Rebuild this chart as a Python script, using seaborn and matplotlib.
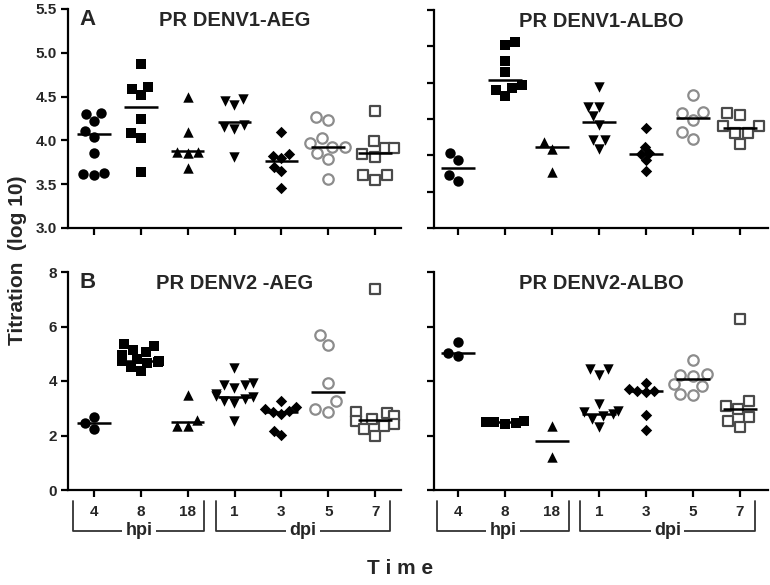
import matplotlib
matplotlib.use('Agg')
import matplotlib.pyplot as plt
import matplotlib.transforms as mtransforms
import seaborn as sns
import pandas as pd

# Time points (x categories) shared by all four panels
time_labels = ['4', '8', '18', '1', '3', '5', '7']

# PR DENV1-AEG
aeg1_values = [
    [4.31, 4.30, 4.22, 4.11, 4.04, 3.86, 3.63, 3.60, 3.62],
    [4.87, 4.61, 4.59, 4.52, 4.25, 4.09, 4.03, 3.64],
    [4.50, 4.10, 3.87, 3.87, 3.86, 3.69],
    [4.47, 4.45, 4.40, 4.18, 4.15, 4.13, 3.81],
    [4.10, 3.84, 3.82, 3.80, 3.70, 3.65, 3.46],
    [4.27, 4.23, 4.03, 3.97, 3.93, 3.93, 3.86, 3.79, 3.56],
    [4.33, 3.99, 3.91, 3.91, 3.85, 3.81, 3.61, 3.55, 3.61],
]
aeg1_means = [4.07, 4.38, 3.88, 4.21, 3.77, 3.93, 3.86]

# PR DENV1-ALBO
albo1_values = [
    [3.53, 3.43, 3.23, 3.14],
    [5.06, 5.02, 4.80, 4.64, 4.47, 4.42, 4.40, 4.31],
    [3.69, 3.59, 3.27],
    [4.44, 4.17, 4.17, 4.04, 3.92, 3.71, 3.71, 3.59],
    [3.88, 3.62, 3.53, 3.52, 3.43, 3.28],
    [4.33, 4.08, 4.09, 3.98, 3.82, 3.72],
    [4.08, 4.05, 3.90, 3.90, 3.81, 3.81, 3.65],
]
albo1_means = [3.33, 4.54, 3.61, 3.96, 3.52, 4.01, 3.88]

# PR DENV2-AEG
aeg2_values = [
    [2.69, 2.45, 2.24],
    [5.35, 5.30, 5.15, 5.05, 4.95, 4.80, 4.75, 4.72, 4.70, 4.65, 4.50, 4.35],
    [3.49, 2.58, 2.36, 2.36],
    [4.49, 3.94, 3.86, 3.86, 3.75, 3.52, 3.46, 3.40, 3.35, 3.28, 3.20, 2.54],
    [3.25, 3.05, 2.97, 2.89, 2.85, 2.79, 2.18, 2.02],
    [5.68, 5.32, 3.94, 3.25, 2.97, 2.88],
    [7.38, 2.85, 2.81, 2.70, 2.60, 2.54, 2.42, 2.36, 2.24, 2.00],
]
aeg2_means = [2.45, 4.72, 2.48, 3.42, 2.85, 3.60, 2.58]

# PR DENV2-ALBO
albo2_values = [
    [5.44, 5.04, 4.92],
    [2.55, 2.50, 2.48, 2.45, 2.42],
    [2.36, 1.20],
    [4.43, 4.43, 4.21, 3.15, 2.91, 2.85, 2.79, 2.70, 2.60, 2.30],
    [3.91, 3.70, 3.65, 3.62, 3.60, 2.76, 2.21],
    [4.76, 4.25, 4.22, 4.19, 3.88, 3.82, 3.54, 3.49],
    [6.26, 3.25, 3.09, 2.97, 2.67, 2.54, 2.32],
]
albo2_means = [5.04, 2.48, 1.79, 2.79, 3.62, 4.09, 2.97]

# marker style per time point (GraphPad-like)
markers = ['o', 's', '^', 'v', 'D', 'o', 's']
faces = ['black', 'black', 'black', 'black', 'black', 'white', 'white']
edges = ['black', 'black', 'black', 'black', 'black', '#8c8c8c', '#4a4a4a']
sizes = [7.5, 7.5, 7.5, 7.5, 5.8, 7.5, 7.5]

sns.set_style('ticks')
plt.rcParams['font.family'] = ['Liberation Sans', 'DejaVu Sans']
plt.rcParams['font.weight'] = 'bold'

fig = plt.figure(figsize=(7.7, 5.85), dpi=100)
W, H = 770.0, 585.0


def make_axes(left, right, top, bottom):
    return fig.add_axes([left / W, 1 - bottom / H, (right - left) / W, (bottom - top) / H])


def draw_panel(ax, values, means, title, letter, ylim, yticks, show_labels, fmt, xlim):
    for i, vals in enumerate(values):
        df = pd.DataFrame({'time': time_labels[i], 'titer': vals})
        lw = 1.6 if faces[i] == 'white' else 0
        sns.swarmplot(data=df, x='time', y='titer', order=time_labels, ax=ax,
                      marker=markers[i], color=faces[i], edgecolor=edges[i],
                      linewidth=lw, size=sizes[i], warn_thresh=1.0)
    # mean bars
    for i, m in enumerate(means):
        ax.hlines(m, i - 0.36, i + 0.36, color='black', lw=1.8, zorder=5)
    ax.set_xlim(*xlim)
    ax.set_ylim(*ylim)
    ax.set_yticks(yticks)
    if show_labels:
        ax.set_yticklabels([fmt.format(t) for t in yticks], fontsize=11,
                           fontweight='bold')
    else:
        ax.set_yticklabels([])
    ax.set_xlabel('')
    ax.set_ylabel('')
    for s in ['top', 'right']:
        ax.spines[s].set_visible(False)
    for s in ['left', 'bottom']:
        ax.spines[s].set_linewidth(1.6)
        ax.spines[s].set_color('black')
    ax.tick_params(axis='both', width=1.6, length=5, color='black', pad=3)
    ax.text(0.5, 0.99, title, transform=ax.transAxes, ha='center', va='top',
            fontsize=14.5, fontweight='bold')
    if letter:
        ax.text(0.035, 1.0, letter, transform=ax.transAxes, ha='left', va='top',
                fontsize=16, fontweight='bold')


def bracket_row(ax):
    ax.set_xticks(range(len(time_labels)))
    ax.set_xticklabels(time_labels, fontsize=11, fontweight='bold')
    ax.tick_params(axis='x', pad=6)
    trans = mtransforms.blended_transform_factory(ax.transData, ax.transAxes)
    y_top, y_bot = -0.05, -0.188
    for (x0, x1, lab) in [(-0.44, 2.36, 'hpi'), (2.6, 6.32, 'dpi')]:
        ax.plot([x0, x0, x1, x1], [y_top, y_bot, y_bot, y_top], color='#333333',
                lw=1.3, transform=trans, clip_on=False)
        ax.text((x0 + x1) / 2, y_bot, lab, transform=trans, ha='center', va='center',
                fontsize=13, fontweight='bold',
                bbox=dict(facecolor='white', edgecolor='none', pad=2.5))


xlim_l = (-0.55, 6.55)
xlim_r = (-0.51, 6.6)

axA = make_axes(68, 401, 9, 228)
draw_panel(axA, aeg1_values, aeg1_means, 'PR DENV1-AEG', 'A', (3.0, 5.5),
           [3.0, 3.5, 4.0, 4.5, 5.0, 5.5], True, '{:.1f}', xlim_l)
axA.set_xticks(range(len(time_labels)))
axA.set_xticklabels([])

axB = make_axes(434, 768, 10, 228)
draw_panel(axB, albo1_values, albo1_means, 'PR DENV1-ALBO', None, (2.5, 5.5),
           [2.5, 3.0, 3.5, 4.0, 4.5, 5.0, 5.5], False, '{:.1f}', xlim_r)
axB.set_xticks(range(len(time_labels)))
axB.set_xticklabels([])

axC = make_axes(68, 401, 272, 490)
draw_panel(axC, aeg2_values, aeg2_means, 'PR DENV2 -AEG', 'B', (0, 8),
           [0, 2, 4, 6, 8], True, '{:.0f}', xlim_l)
bracket_row(axC)

axD = make_axes(434, 768, 272, 490)
draw_panel(axD, albo2_values, albo2_means, 'PR DENV2-ALBO', None, (0, 8),
           [0, 2, 4, 6, 8], False, '{:.0f}', xlim_r)
bracket_row(axD)

fig.text(18 / W, 1 - 260 / H, 'Titration  (log 10)', rotation=90, ha='center',
         va='center', fontsize=15, fontweight='bold')
fig.text(400 / W, 1 - 568 / H, 'T i m e', ha='center', va='center',
         fontsize=15, fontweight='bold')

fig.savefig('out.png', dpi=100)
